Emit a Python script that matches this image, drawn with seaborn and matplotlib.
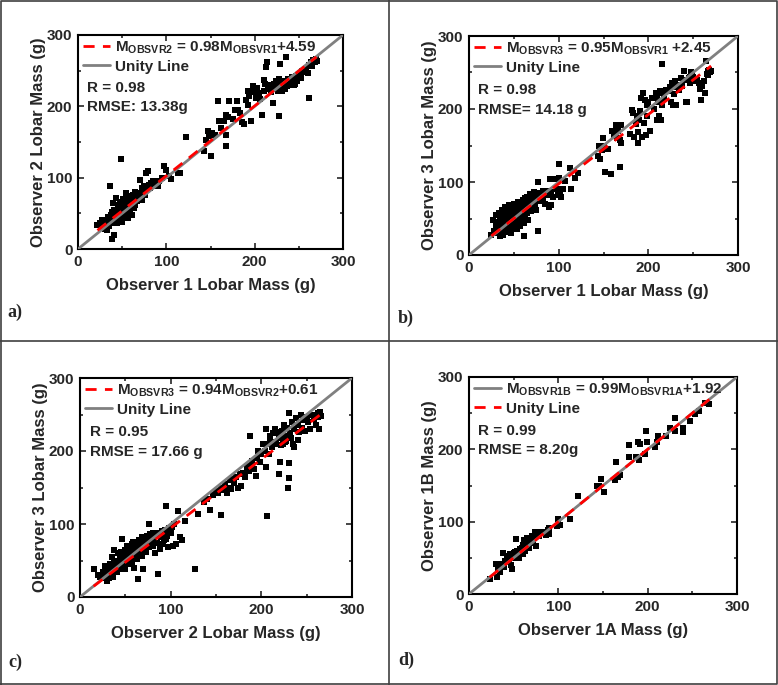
import matplotlib
matplotlib.use("Agg")
import matplotlib.pyplot as plt
import numpy as np
import pandas as pd
import seaborn as sns
from matplotlib.lines import Line2D

# ---- data (grams) ----
# panel a: observer 1 vs observer 2
a_x = [22, 25, 27, 28, 30, 31, 32, 33, 34, 35,
       35, 36, 36, 37, 38, 38, 39, 40, 40, 41,
       41, 42, 43, 43, 44, 45, 45, 46, 47, 47,
       48, 49, 49, 50, 50, 51, 52, 52, 53, 54,
       55, 55, 56, 57, 57, 58, 59, 60, 60, 61,
       62, 62, 63, 64, 65, 65, 66, 67, 68, 69,
       70, 70, 71, 72, 73, 74, 75, 76, 77, 78,
       79, 80, 81, 83, 85, 86, 88, 90, 92, 95,
       97, 100, 103, 105, 113, 116, 60, 45, 58, 66,
       122, 143, 145, 147, 148, 151, 152, 155, 158, 160,
       162, 165, 167, 168, 168, 170, 171, 175, 178, 180,
       181, 183, 186, 188, 190, 192, 192, 194, 196, 198,
       199, 200, 201, 203, 205, 206, 208, 210, 211, 212,
       213, 214, 215, 216, 218, 220, 221, 222, 223, 224,
       225, 226, 227, 228, 228, 229, 230, 231, 232, 233,
       234, 235, 236, 237, 238, 239, 240, 241, 242, 243,
       244, 245, 247, 248, 250, 252, 254, 256, 258, 260,
       262, 262, 264, 265, 266, 268, 269, 270, 246, 252]
a_y = [33, 37, 41, 30, 35, 28, 40, 27, 45, 32,
       42, 89, 38, 48, 14, 52, 36, 64, 44, 20,
       55, 40, 71, 50, 36, 58, 46, 62, 42, 53,
       66, 126, 48, 55, 38, 70, 58, 45, 62, 78,
       52, 66, 75, 60, 44, 68, 56, 72, 63, 48,
       66, 76, 58, 70, 62, 80, 74, 67, 79, 70,
       78, 97, 73, 85, 68, 82, 88, 76, 106, 84,
       109, 90, 86, 92, 95, 88, 92, 89, 96, 100,
       116, 111, 102, 98, 107, 106, 58, 55, 62, 72,
       157, 137, 153, 165, 158, 130, 162, 160, 207, 179,
       169, 180, 144, 160, 188, 185, 207, 182, 195, 207,
       195, 190, 178, 175, 209, 202, 221, 215, 180, 229,
       220, 225, 212, 226, 218, 210, 188, 222, 237, 232,
       255, 262, 230, 224, 220, 226, 205, 232, 228, 235,
       230, 222, 239, 187, 224, 259, 228, 222, 230, 236,
       225, 269, 232, 228, 239, 233, 236, 230, 241, 234,
       238, 230, 242, 236, 246, 244, 250, 248, 252, 247,
       212, 258, 262, 256, 265, 262, 266, 264, 232, 240]

# panel b: observer 1 vs observer 3
b_x = [25, 27, 28, 30, 30, 31, 32, 33, 34, 35,
       35, 36, 37, 37, 38, 38, 39, 40, 40, 41,
       42, 42, 43, 44, 44, 45, 46, 46, 47, 48,
       48, 49, 50, 50, 51, 52, 52, 53, 54, 55,
       55, 56, 57, 57, 58, 59, 60, 60, 61, 61,
       62, 63, 63, 64, 65, 65, 66, 67, 67, 68,
       69, 70, 70, 71, 72, 73, 74, 75, 75, 76,
       77, 77, 78, 79, 80, 82, 83, 84, 85, 86,
       88, 89, 90, 91, 92, 94, 96, 98, 99, 100,
       100, 101, 102, 103, 105, 113, 114, 118, 122, 107,
       144, 145, 146, 148, 149, 150, 152, 155, 158, 160,
       162, 164, 165, 166, 168, 168, 169, 170, 180, 182,
       183, 184, 186, 187, 188, 189, 190, 191, 192, 193,
       194, 195, 196, 197, 198, 199, 200, 202, 204, 206,
       208, 210, 210, 211, 212, 213, 214, 215, 215, 216,
       218, 220, 222, 224, 225, 226, 227, 228, 229, 230,
       231, 232, 234, 236, 238, 240, 241, 242, 243, 245,
       246, 248, 249, 250, 252, 254, 256, 258, 259, 260,
       262, 263, 264, 265, 266, 267, 268, 269, 270, 247]
b_y = [28, 48, 33, 55, 40, 30, 45, 57, 36, 26,
       50, 34, 62, 42, 28, 55, 38, 66, 46, 32,
       52, 40, 60, 35, 48, 68, 42, 55, 30, 62,
       45, 38, 70, 52, 58, 42, 64, 48, 36, 72,
       55, 46, 60, 40, 68, 50, 76, 56, 26, 44,
       62, 78, 52, 70, 58, 80, 48, 72, 64, 84,
       60, 76, 68, 82, 74, 86, 70, 80, 62, 78,
       100, 33, 85, 74, 80, 88, 76, 84, 70, 88,
       82, 66, 104, 68, 86, 80, 104, 90, 82, 124,
       105, 88, 84, 80, 91, 119, 91, 105, 113, 102,
       135, 149, 131, 144, 160, 150, 114, 145, 111, 170,
       165, 178, 160, 170, 121, 157, 153, 178, 166, 199,
       195, 162, 180, 190, 153, 168, 185, 197, 215, 162,
       222, 181, 213, 164, 206, 190, 210, 170, 215, 200,
       222, 185, 218, 210, 190, 224, 185, 261, 205, 222,
       214, 226, 225, 230, 210, 236, 205, 230, 220, 238,
       206, 233, 226, 242, 232, 252, 240, 210, 209, 243,
       236, 250, 248, 244, 238, 240, 235, 228, 212, 232,
       238, 222, 266, 248, 252, 246, 254, 250, 252, 244]

# panel c: observer 2 vs observer 3
c_x = [15, 20, 22, 24, 25, 27, 28, 30, 30, 31,
       32, 33, 34, 35, 35, 36, 37, 38, 38, 39,
       40, 41, 42, 42, 43, 44, 45, 46, 46, 47,
       48, 49, 50, 50, 51, 52, 53, 54, 54, 55,
       56, 57, 57, 58, 59, 60, 60, 61, 62, 63,
       64, 64, 65, 66, 67, 68, 68, 69, 70, 70,
       71, 72, 73, 74, 75, 76, 76, 77, 78, 79,
       80, 81, 82, 83, 84, 85, 86, 87, 88, 89,
       90, 91, 92, 93, 94, 95, 96, 97, 98, 100,
       101, 103, 104, 106, 108, 110, 112, 116, 127, 95,
       130, 137, 140, 143, 147, 150, 152, 155, 156, 158,
       160, 162, 164, 165, 166, 168, 170, 172, 174, 176,
       178, 180, 182, 184, 186, 187, 188, 190, 192, 194,
       195, 196, 198, 200, 202, 204, 205, 206, 207, 208,
       210, 212, 213, 214, 215, 216, 218, 219, 220, 221,
       222, 223, 224, 225, 226, 227, 228, 229, 230, 230,
       231, 232, 233, 234, 235, 236, 238, 240, 242, 244,
       245, 246, 248, 250, 252, 254, 256, 258, 260, 262,
       263, 264, 265, 266, 240, 236, 226, 210, 205]
c_y = [39, 30, 27, 26, 34, 28, 42, 30, 22, 38,
       26, 45, 32, 40, 55, 28, 48, 36, 64, 42,
       50, 34, 60, 44, 38, 54, 62, 79, 46, 40,
       56, 48, 64, 38, 52, 70, 58, 45, 62, 68,
       54, 72, 48, 62, 76, 58, 40, 66, 74, 52,
       25, 68, 78, 60, 72, 56, 82, 66, 74, 38,
       80, 70, 62, 84, 76, 100, 68, 86, 74, 80,
       70, 88, 78, 60, 84, 74, 32, 88, 66, 82,
       90, 72, 86, 78, 92, 125, 84, 68, 94, 88,
       96, 70, 100, 72, 118, 82, 78, 104, 38, 80,
       114, 130, 134, 119, 140, 145, 142, 150, 112, 146,
       155, 142, 150, 160, 148, 162, 156, 164, 150, 168,
       152, 170, 165, 178, 172, 221, 180, 186, 176, 166,
       190, 200, 185, 196, 210, 200, 230, 111, 210, 196,
       215, 205, 224, 212, 230, 210, 226, 169, 218, 185,
       208, 228, 210, 235, 220, 214, 232, 150, 183, 163,
       252, 225, 218, 240, 210, 230, 245, 236, 226, 250,
       232, 242, 228, 246, 240, 230, 250, 244, 236, 252,
       246, 230, 254, 248, 215, 206, 212, 220, 178]

# panel d: observer 1 repeat (A vs B)
d_x = [23, 30, 31, 32, 35, 36, 38, 39, 40, 42,
       43, 44, 45, 46, 47, 48, 48, 49, 50, 51,
       52, 53, 54, 55, 56, 57, 58, 59, 60, 61,
       62, 63, 64, 65, 66, 67, 68, 69, 70, 71,
       72, 73, 74, 75, 76, 77, 78, 80, 82, 84,
       86, 88, 89, 90, 99, 100, 101, 102, 113, 122,
       143, 146, 148, 151, 163, 165, 167, 169, 179, 179,
       187, 189, 190, 191, 197, 198, 199, 208, 210, 212,
       221, 225, 231, 231, 240, 240, 247, 253, 257, 264, 269]
d_y = [21, 41, 23, 36, 30, 42, 57, 38, 46, 50,
       44, 52, 48, 55, 40, 34, 54, 50, 56, 58,
       52, 76, 60, 57, 50, 62, 58, 64, 55, 68,
       74, 60, 66, 78, 70, 63, 76, 72, 80, 74,
       70, 78, 86, 66, 84, 82, 80, 86, 84, 86,
       82, 88, 83, 91, 94, 104, 96, 95, 104, 135,
       150, 150, 159, 141, 158, 183, 162, 164, 206, 189,
       189, 210, 185, 208, 194, 226, 210, 203, 210, 219,
       218, 229, 243, 226, 224, 229, 239, 249, 253, 264, 263]

# fits and stats printed on each panel
slopes = [0.98, 0.95, 0.94, 0.99]
intercepts = [4.59, 2.45, 0.61, 1.92]
fit_labels = [r"$M_{OBSVR2}$ = 0.98$M_{OBSVR1}$+4.59",
              r"$M_{OBSVR3}$ = 0.95$M_{OBSVR1}$ +2.45",
              r"$M_{OBSVR3}$ = 0.94$M_{OBSVR2}$+0.61",
              r"$M_{OBSVR1B}$ = 0.99$M_{OBSVR1A}$+1.92"]
r_texts = ["R = 0.98", "R = 0.98", "R = 0.95", "R = 0.99"]
rmse_texts = ["RMSE: 13.38g", "RMSE= 14.18 g", "RMSE = 17.66 g", "RMSE = 8.20g"]
x_titles = ["Observer 1 Lobar Mass (g)", "Observer 1 Lobar Mass (g)",
            "Observer 2 Lobar Mass (g)", "Observer 1A Mass (g)"]
y_titles = ["Observer 2 Lobar Mass (g)", "Observer 3 Lobar Mass (g)",
            "Observer 3 Lobar Mass (g)", "Observer 1B Mass (g)"]
panel_tags = ["a)", "b)", "c)", "d)"]
ticks = [0, 100, 200, 300]

sns.set_theme(style="ticks")
plt.rcParams["font.family"] = ["Liberation Sans", "DejaVu Sans"]
plt.rcParams["font.weight"] = "bold"
plt.rcParams["mathtext.fontset"] = "custom"
plt.rcParams["mathtext.bf"] = "Liberation Sans:bold"
plt.rcParams["mathtext.rm"] = "Liberation Sans:bold"
plt.rcParams["mathtext.default"] = "bf"

W, H = 778, 685
fig = plt.figure(figsize=(W / 100, H / 100), dpi=100)

# axes boxes in pixels: left, top, right, bottom
boxes = [(78, 35, 343, 249), (469, 36, 738, 255),
         (80, 378, 352, 597), (469, 377, 737, 594)]
tag_pos = [(7, 312), (398, 318), (8, 662), (398, 660)]
panels = [(a_x, a_y), (b_x, b_y), (c_x, c_y), (d_x, d_y)]

for i, (xs, ys) in enumerate(panels):
    l, t, r, b = boxes[i]
    ax = fig.add_axes([l / W, 1 - b / H, (r - l) / W, (b - t) / H])
    df = pd.DataFrame({"x": xs, "y": ys})

    sns.scatterplot(data=df, x="x", y="y", marker="s", color="black",
                    s=15, linewidth=0, ax=ax, zorder=2)

    unity_x = np.array([ticks[0], ticks[-1]])
    fit_x = np.array([df["x"].min(), df["x"].max()])
    fit_y = slopes[i] * fit_x + intercepts[i]

    if i < 3:
        h_fit, = ax.plot(fit_x, fit_y, color="red", lw=2, ls=(0, (4, 3)), zorder=4)
        h_uni, = ax.plot(unity_x, unity_x, color="#808080", lw=2, zorder=3)
    else:
        # in panel d the grey line is the fit and red dashes the unity line
        h_fit, = ax.plot(unity_x, unity_x, color="#808080", lw=2, zorder=3)
        h_uni, = ax.plot(fit_x, fit_x, color="red", lw=2, ls=(0, (4, 3)), zorder=4)
    handles = [h_fit, h_uni]
    labels = [fit_labels[i], "Unity Line"]

    leg = ax.legend(handles, labels, loc="upper left", frameon=False,
                    fontsize=11, handlelength=1.8, handletextpad=0.3,
                    labelspacing=0.25, borderaxespad=0.1, borderpad=0.2)
    for txt in leg.get_texts():
        txt.set_fontweight("bold")
    ax.text(0.035, 0.752, r_texts[i], transform=ax.transAxes, fontsize=11,
            fontweight="bold", va="center", ha="left")
    ax.text(0.035, 0.664, rmse_texts[i], transform=ax.transAxes, fontsize=11,
            fontweight="bold", va="center", ha="left")

    ax.set_xlim(ticks[0], ticks[-1])
    ax.set_ylim(ticks[0], ticks[-1])
    ax.set_xticks(ticks)
    ax.set_yticks(ticks)
    ax.set_xticks([50, 150, 250], minor=True)
    ax.set_yticks([50, 150, 250], minor=True)
    ax.tick_params(which="both", direction="in", top=True, right=True,
                   width=1.2, labelsize=11, pad=4)
    ax.tick_params(which="major", length=4)
    ax.tick_params(which="minor", length=2.5)
    for lab in ax.get_xticklabels() + ax.get_yticklabels():
        lab.set_fontweight("bold")
    for sp in ax.spines.values():
        sp.set_linewidth(1.5)
        sp.set_color("black")
    ax.set_xlabel(x_titles[i], fontsize=12, fontweight="bold", labelpad=7)
    ax.set_ylabel(y_titles[i], fontsize=12, fontweight="bold", labelpad=1)

    tx, ty = tag_pos[i]
    fig.text(tx / W, 1 - ty / H, panel_tags[i], fontsize=13, fontweight="bold",
             family="Liberation Serif", va="center", ha="left")

# frames around the four panels
frame_kw = dict(color="#404040", lw=1.2, transform=fig.transFigure)
fig.add_artist(Line2D([389 / W, 389 / W], [0, 1], **frame_kw))
fig.add_artist(Line2D([0, 1], [1 - 341 / H, 1 - 341 / H], **frame_kw))
fig.add_artist(Line2D([0.001, 0.999, 0.999, 0.001, 0.001],
                      [0.001, 0.001, 0.999, 0.999, 0.001], **frame_kw))

fig.savefig("out.png", dpi=100)
